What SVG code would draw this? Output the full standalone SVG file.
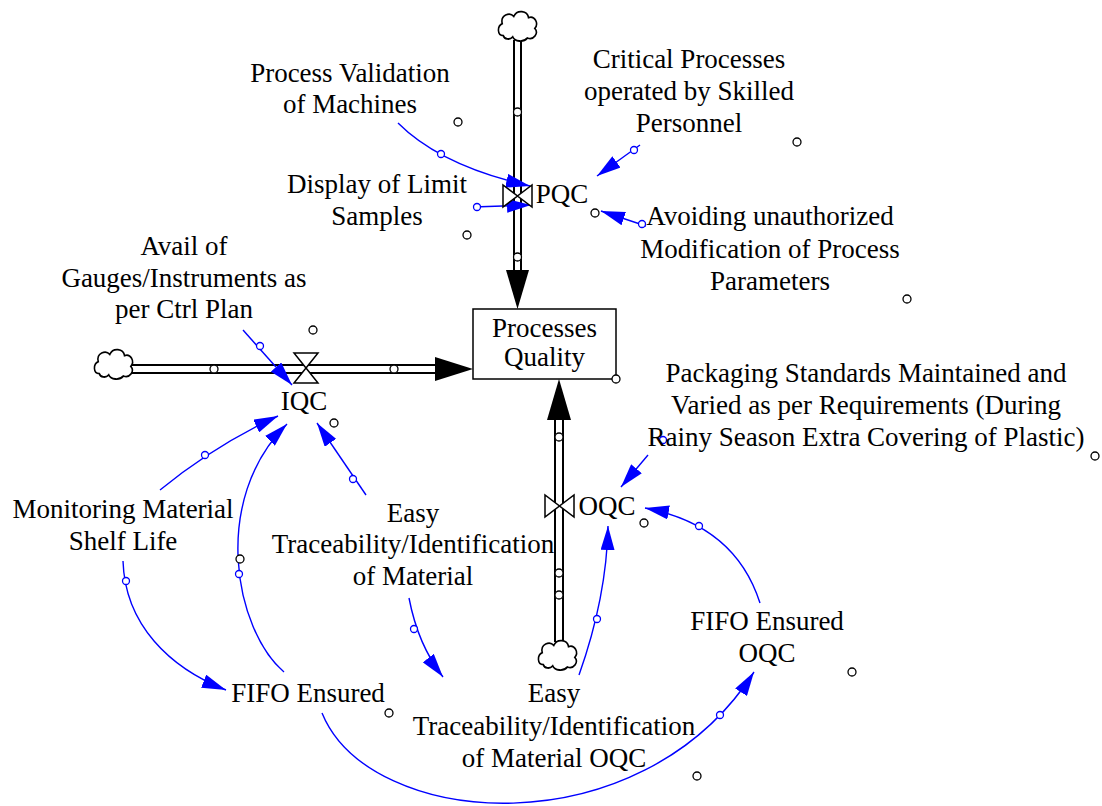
<svg xmlns="http://www.w3.org/2000/svg" width="1102" height="806" viewBox="0 0 1102 806">
<style>
.t{font-family:"Liberation Serif","Times New Roman",serif;font-size:27px;fill:#000;text-anchor:middle}
.h{fill:#fff;stroke:#000;stroke-width:1.3}
.bc{fill:#fff;stroke:#00f;stroke-width:1.3}
.ln{fill:none;stroke:#00f;stroke-width:1.4}
.pipe{stroke:#000;stroke-width:2;fill:none}
.valve{fill:#fff;stroke:#000;stroke-width:1.5}
.cloud{fill:#fff;stroke:#000;stroke-width:1.5}
.ah{fill:#000}
</style>
<defs>
<marker id="arr" markerUnits="userSpaceOnUse" viewBox="0 0 24 14" markerWidth="24" markerHeight="14" refX="24" refY="7" orient="auto">
<path d="M0,0 L24,7 L0,14 Z" fill="#00f"/>
</marker>
<path id="cl" d="M-14,8 C-20,8 -20,0 -15,-2 C-17,-9 -8,-12 -4,-8 C-1,-14 9,-13 10,-7 C16,-9 20,-2 16,2 C20,6 15,12 9,10 C5,14 -3,13 -5,9 C-8,12 -13,11 -14,8 Z"/>
</defs>
<rect width="1102" height="806" fill="#fff"/>

<g id="connectors">
<g id="flow-pqc">
<line class="pipe" x1="514" y1="40" x2="514" y2="271"/>
<line class="pipe" x1="521" y1="40" x2="521" y2="271"/>
<polygon class="ah" points="506,270 529,270 517.5,309"/>
<circle class="h" cx="517.5" cy="112" r="4"/>
<circle class="h" cx="517.5" cy="257" r="4"/>
</g>
<g id="flow-iqc">
<line class="pipe" x1="132" y1="365" x2="436" y2="365"/>
<line class="pipe" x1="132" y1="373" x2="436" y2="373"/>
<polygon class="ah" points="435,357 435,381 473,369"/>
<circle class="h" cx="214" cy="369" r="4"/>
<circle class="h" cx="394" cy="369" r="4"/>
</g>
<g id="flow-oqc">
<line class="pipe" x1="555" y1="642" x2="555" y2="419"/>
<line class="pipe" x1="563" y1="642" x2="563" y2="419"/>
<polygon class="ah" points="547,420 571,420 559,379"/>
<circle class="h" cx="559" cy="437" r="4"/>
<circle class="h" cx="559" cy="573" r="4"/>
<circle class="h" cx="559" cy="595" r="4"/>
</g>
<path class="ln" d="M398,123 Q441,166 530,186" marker-end="url(#arr)"/>
<circle class="bc" cx="441" cy="154" r="3.5"/>
<path class="ln" d="M473,207 L531,205" marker-end="url(#arr)"/>
<circle class="bc" cx="477" cy="207" r="3.5"/>
<path class="ln" d="M640,145 L597,176" marker-end="url(#arr)"/>
<circle class="bc" cx="634" cy="150" r="3.5"/>
<path class="ln" d="M646,226 L601,211" marker-end="url(#arr)"/>
<circle class="bc" cx="642" cy="224" r="3.5"/>
<path class="ln" d="M243,330 L292,385" marker-end="url(#arr)"/>
<circle class="bc" cx="260" cy="346" r="3.5"/>
<path class="ln" d="M160,490 Q215,445 278,416" marker-end="url(#arr)"/>
<circle class="bc" cx="205" cy="455" r="3.5"/>
<path class="ln" d="M284,672 C235,630 210,500 287,424" marker-end="url(#arr)"/>
<circle class="bc" cx="239" cy="574" r="3.5"/>
<path class="ln" d="M366,495 L317,423" marker-end="url(#arr)"/>
<circle class="bc" cx="353" cy="479" r="3.5"/>
<path class="ln" d="M123,561 C125,625 170,668 226,690" marker-end="url(#arr)"/>
<circle class="bc" cx="126" cy="581" r="3.5"/>
<path class="ln" d="M409,598 Q418,645 443,677" marker-end="url(#arr)"/>
<circle class="bc" cx="414" cy="629" r="3.5"/>
<path class="ln" d="M579,675 C595,630 607,580 608,526" marker-end="url(#arr)"/>
<circle class="bc" cx="597" cy="619" r="3.5"/>
<path class="ln" d="M760,603 Q735,525 645,508" marker-end="url(#arr)"/>
<circle class="bc" cx="699" cy="526" r="3.5"/>
<path class="ln" d="M648,455 L621,487" marker-end="url(#arr)"/>
<circle class="bc" cx="663" cy="440" r="3.5"/>
<path class="ln" d="M322,713 C370,830 640,850 754,672" marker-end="url(#arr)"/>
<circle class="bc" cx="720" cy="715" r="3.5"/>
</g>

<g id="cloud-top"><use href="#cl" class="cloud" transform="translate(518,26) scale(1.05,1.2)"/></g>
<g id="cloud-left"><use href="#cl" class="cloud" transform="translate(114,364) scale(1.05,1.2)"/></g>
<g id="cloud-bottom"><use href="#cl" class="cloud" transform="translate(558,655) scale(1.05,1.2)"/></g>

<g id="n-pqc">
<polygon class="valve" points="503,185 503,207 517.5,196"/>
<polygon class="valve" points="532,185 532,207 517.5,196"/>
<text class="t" x="562" y="203">PQC</text>
<circle class="h" cx="595" cy="213" r="4"/>
</g>
<g id="n-iqc">
<polygon class="valve" points="294,353 318,353 306,368"/>
<polygon class="valve" points="294,383 318,383 306,368"/>
<text class="t" x="304" y="410">IQC</text>
<circle class="h" cx="334" cy="423" r="4"/>
</g>
<g id="n-oqc">
<polygon class="valve" points="545,495 545,517 559.5,506"/>
<polygon class="valve" points="574,495 574,517 559.5,506"/>
<text class="t" x="607" y="515">OQC</text>
<circle class="h" cx="644" cy="523" r="4"/>
</g>
<g id="n-stock">
<rect x="473" y="309" width="143" height="70" fill="#fff" stroke="#000" stroke-width="1.5"/>
<text class="t" x="544.5" y="337">Processes</text>
<text class="t" x="544.5" y="366">Quality</text>
<circle class="h" cx="616" cy="379" r="4"/>
</g>
<g id="n-procval">
<text class="t" x="350" y="82">Process Validation</text>
<text class="t" x="350" y="113">of Machines</text>
<circle class="h" cx="458" cy="122" r="4"/>
</g>
<g id="n-display">
<text class="t" x="377" y="193">Display of Limit</text>
<text class="t" x="377" y="225">Samples</text>
<circle class="h" cx="467" cy="235" r="4"/>
</g>
<g id="n-critical">
<text class="t" x="689" y="68">Critical Processes</text>
<text class="t" x="689" y="100">operated by Skilled</text>
<text class="t" x="689" y="132">Personnel</text>
<circle class="h" cx="797" cy="142" r="4"/>
</g>
<g id="n-avoid">
<text class="t" x="770" y="225">Avoiding unauthorized</text>
<text class="t" x="770" y="258">Modification of Process</text>
<text class="t" x="770" y="290">Parameters</text>
<circle class="h" cx="907" cy="299" r="4"/>
</g>
<g id="n-avail">
<text class="t" x="184" y="255">Avail of</text>
<text class="t" x="184" y="287">Gauges/Instruments as</text>
<text class="t" x="184" y="318">per Ctrl Plan</text>
<circle class="h" cx="313" cy="330" r="4"/>
</g>
<g id="n-packaging">
<text class="t" x="866" y="382">Packaging Standards Maintained and</text>
<text class="t" x="866" y="414">Varied as per Requirements (During</text>
<text class="t" x="866" y="446">Rainy Season Extra Covering of Plastic)</text>
<circle class="h" cx="1095" cy="456" r="4"/>
</g>
<g id="n-monitor">
<text class="t" x="123" y="518">Monitoring Material</text>
<text class="t" x="123" y="550">Shelf Life</text>
<circle class="h" cx="240" cy="559" r="4"/>
</g>
<g id="n-easy">
<text class="t" x="413" y="522">Easy</text>
<text class="t" x="413" y="553">Traceability/Identification</text>
<text class="t" x="413" y="585">of Material</text>
</g>
<g id="n-fifo">
<text class="t" x="308" y="702">FIFO Ensured</text>
<circle class="h" cx="389" cy="713" r="4"/>
</g>
<g id="n-easyoqc">
<text class="t" x="554" y="702">Easy</text>
<text class="t" x="554" y="735">Traceability/Identification</text>
<text class="t" x="554" y="767">of Material OQC</text>
<circle class="h" cx="697" cy="776" r="4"/>
</g>
<g id="n-fifooqc">
<text class="t" x="767" y="630">FIFO Ensured</text>
<text class="t" x="767" y="662">OQC</text>
<circle class="h" cx="852" cy="672" r="4"/>
</g>
</svg>
